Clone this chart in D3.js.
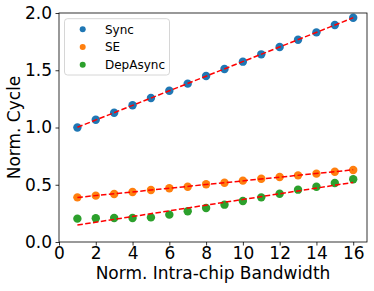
<!DOCTYPE html>
<html><head><meta charset="utf-8">
<script src="https://cdn.jsdelivr.net/npm/d3@7"></script>
<style>body{margin:0;background:#fff}svg{display:block}text{font-family:"DejaVu Sans",sans-serif}</style>
</head><body><svg id="c" width="374" height="291"></svg>
<script>
const bandwidth = [1,2,3,4,5,6,7,8,9,10,11,12,13,14,15,16];
const syncVals = [1.000,1.068,1.129,1.194,1.258,1.321,1.383,1.450,1.511,1.575,1.639,1.703,1.767,1.831,1.895,1.959];
const seVals = [0.390,0.405,0.419,0.437,0.454,0.469,0.483,0.504,0.518,0.536,0.553,0.568,0.582,0.597,0.614,0.629];
const depAsyncVals = [0.204,0.207,0.210,0.210,0.215,0.239,0.268,0.297,0.326,0.358,0.390,0.422,0.457,0.483,0.515,0.548];
const seriesNames = ["Sync","SE","DepAsync"];
const seriesColors = ["#1f77b4","#ff7f0e","#2ca02c"];
const xTicks = [0,2,4,6,8,10,12,14,16];
const yTicks = [0.0,0.5,1.0,1.5,2.0];
const xLabel = "Norm. Intra-chip Bandwidth";
const yLabel = "Norm. Cycle";

const series = [syncVals, seVals, depAsyncVals].map((v,i)=>({name:seriesNames[i], color:seriesColors[i], values:v}));

const svg = d3.select("#c");
const L=59, R=367, T=13, B=242;
const x = d3.scaleLinear().domain([0,16.75]).range([L,R]);
const y = d3.scaleLinear().domain([0,2]).range([B,T]);

function fit(xs, ys){
  const n=xs.length, mx=d3.mean(xs), my=d3.mean(ys);
  let sxy=0,sxx=0;
  for(let i=0;i<n;i++){sxy+=(xs[i]-mx)*(ys[i]-my);sxx+=(xs[i]-mx)**2;}
  const b=sxy/sxx, a=my-b*mx;
  return t=>a+b*t;
}

const g = svg.append("g");
series.forEach(s=>{
  g.selectAll(null).data(s.values).enter().append("circle")
    .attr("cx",(d,i)=>x(bandwidth[i])).attr("cy",d=>y(d)).attr("r",4.2)
    .attr("fill",s.color);
});
series.forEach(s=>{
  const f = fit(bandwidth, s.values);
  const x0=d3.min(bandwidth), x1=d3.max(bandwidth);
  g.append("path").attr("d", d3.line()([[x(x0),y(f(x0))],[x(x1),y(f(x1))]]))
    .attr("stroke","#ff0000").attr("stroke-width",1.5).attr("stroke-dasharray","5.5,2.4").attr("fill","none");
});

// axes
const xa = svg.append("g").attr("transform",`translate(0,${B})`)
  .call(d3.axisBottom(x).tickValues(xTicks).tickFormat(d3.format("d")).tickSize(3.5).tickPadding(3.5));
const ya = svg.append("g").attr("transform",`translate(${L},0)`)
  .call(d3.axisLeft(y).tickValues(yTicks).tickFormat(d3.format(".1f")).tickSize(3.5).tickPadding(3.5));
[xa,ya].forEach(a=>{
  a.select(".domain").remove();
  a.selectAll("line").attr("stroke","#000").attr("stroke-width",0.8);
  a.selectAll("text").attr("font-size",17).attr("fill","#000").attr("font-family","DejaVu Sans");
});
xa.selectAll("text").attr("y",16.5).attr("dy",null);
svg.append("rect").attr("x",L).attr("y",T).attr("width",R-L).attr("height",B-T)
  .attr("fill","none").attr("stroke","#000").attr("stroke-width",0.8);

svg.append("text").attr("x",(L+R)/2).attr("y",279).attr("text-anchor","middle")
  .attr("font-size",17).text(xLabel);
svg.append("text").attr("transform",`translate(19.5,${(T+B)/2}) rotate(-90)`).attr("text-anchor","middle")
  .attr("font-size",17).text(yLabel);

// legend
const lg = svg.append("g");
lg.append("rect").attr("x",64.5).attr("y",18.7).attr("width",105).attr("height",56.3).attr("rx",3)
  .attr("fill","#fff").attr("fill-opacity",0.8).attr("stroke","#ccc").attr("stroke-width",0.8);
series.forEach((s,i)=>{
  const yy = 29.3 + i*17.7;
  lg.append("circle").attr("cx",82.7).attr("cy",yy).attr("r",3).attr("fill",s.color);
  lg.append("text").attr("x",105).attr("y",yy).attr("dy","0.35em").attr("font-size",12).text(s.name);
});
</script></body></html>
